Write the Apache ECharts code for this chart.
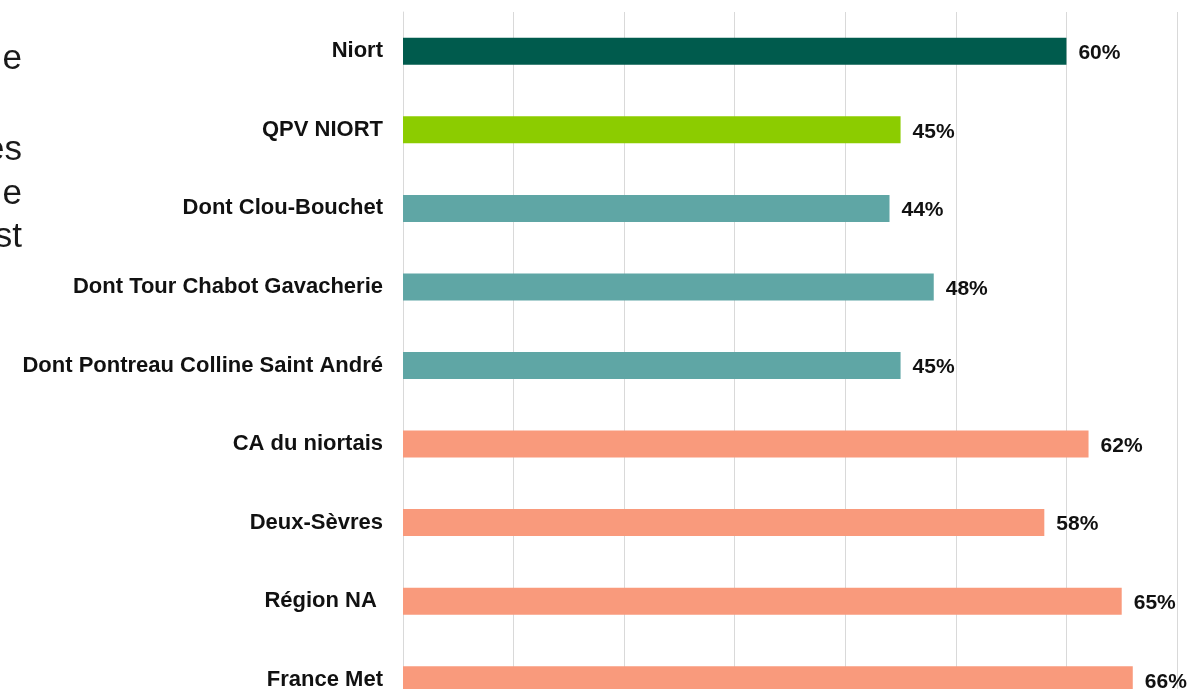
<!DOCTYPE html>
<html>
<head>
<meta charset="utf-8">
<script src="https://cdn.jsdelivr.net/npm/echarts@6/dist/echarts.min.js"></script>
<style>
html,body{margin:0;padding:0;background:#fff;}
#c{width:1187px;height:689px;}
</style>
</head>
<body>
<div id="c"></div>
<script>
var categories = ["Niort", "QPV NIORT", "Dont Clou-Bouchet", "Dont Tour Chabot Gavacherie", "Dont Pontreau Colline Saint André", "CA du niortais", "Deux-Sèvres", "Région NA ", "France Met"];
var values = [60, 45, 44, 48, 45, 62, 58, 65, 66];
var barColors = ["#005B4D", "#8CCC00", "#5FA6A5", "#5FA6A5", "#5FA6A5", "#F99A7C", "#F99A7C", "#F99A7C", "#F99A7C"];
var sideText = ["e", "es", "e", "st"];
var sideTextY = [62, 153, 197, 240];

var chart = echarts.init(document.getElementById('c'));
var sideGraphics = sideText.map(function (t, i) {
  return {
    type: 'text', right: 1165, top: sideTextY[i] - 20,
    style: { text: t, font: '35px "Liberation Sans", Arial, sans-serif', fill: '#1a1a1a', textAlign: 'right' }
  };
});
chart.setOption({
  animation: false,
  graphic: sideGraphics,
  grid: { left: 403, top: 12, width: 774, height: 707, containLabel: false, outerBoundsMode: 'none' },
  xAxis: {
    type: 'value', min: 0, max: 70, interval: 10,
    axisLabel: { show: false }, axisTick: { show: false }, axisLine: { show: false },
    splitLine: { show: true, lineStyle: { color: '#d9d9d9', width: 1 } }
  },
  yAxis: {
    type: 'category', data: categories, inverse: true,
    axisTick: { show: false },
    axisLine: { show: true, lineStyle: { color: '#d9d9d9', width: 1 } },
    axisLabel: { margin: 20, padding: [4, 0, 0, 0], color: '#111', fontWeight: 'bold', fontSize: 22, fontFamily: '"Liberation Sans", Arial, sans-serif' }
  },
  series: [{
    type: 'bar', barWidth: 27,
    data: values.map(function (v, i) { return { value: v, itemStyle: { color: barColors[i] } }; }),
    label: {
      show: true, position: 'right', distance: 12, offset: [0, 2],
      formatter: function (p) { return p.value + '%'; },
      color: '#111', fontWeight: 'bold', fontSize: 21, fontFamily: '"Liberation Sans", Arial, sans-serif'
    }
  }]
});
</script>
</body>
</html>
